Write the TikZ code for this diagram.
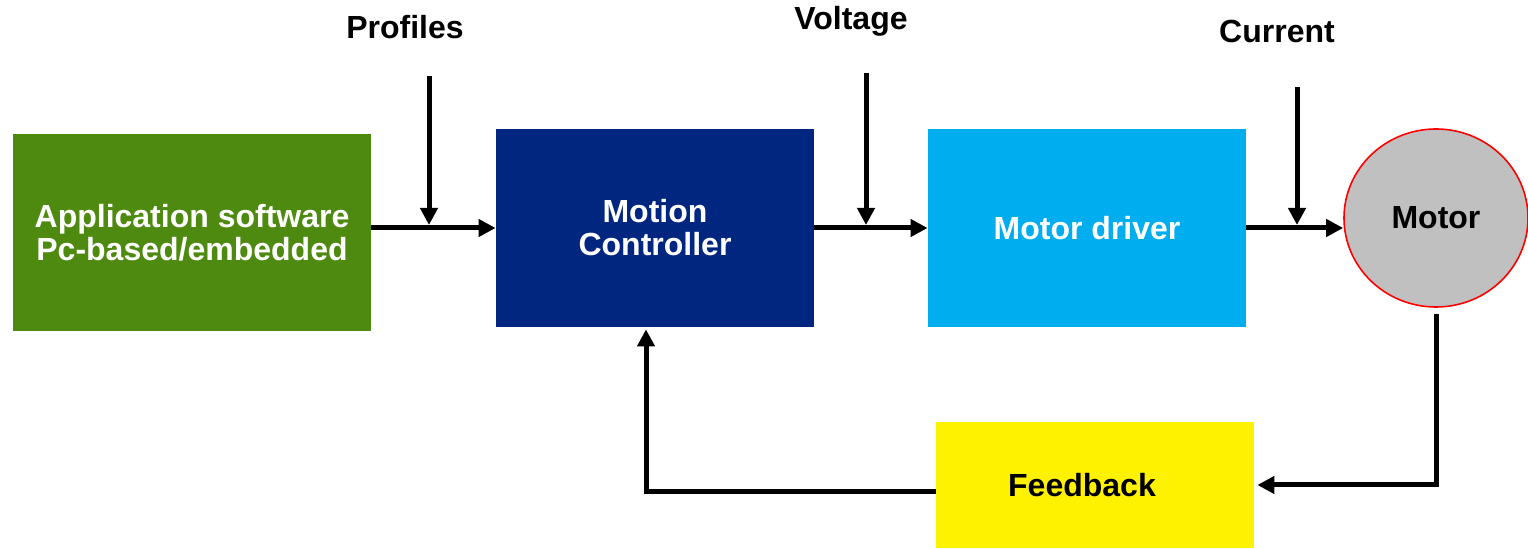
\documentclass[tikz,border=0pt]{standalone}
\usepackage{fontspec}
\setmainfont{Liberation Sans}
\usepackage{tikz}
\usetikzlibrary{arrows.meta,positioning,shapes.geometric}
\definecolor{appgreen}{HTML}{4F8A10}
\definecolor{ctrlblue}{HTML}{00267F}
\definecolor{drvblue}{HTML}{00AEEF}
\definecolor{motorgray}{HTML}{C0C0C0}
\definecolor{fbyellow}{HTML}{FFF200}

\begin{document}
\begin{tikzpicture}[
x=0.5pt,y=-0.5pt,
txt/.style={font=\bfseries\fontsize{16}{16.5}\selectfont},
block/.style={txt,align=center,inner sep=0pt,text=white},
arr/.style={-{Triangle[length=8.5pt,width=8.5pt]},line width=2.5pt}]
\useasboundingbox (0,0) rectangle (1528,549);
\node[block,fill=appgreen,minimum width=179pt,minimum height=98.5pt] (app) at (192,232.5) {Application software\\Pc-based/embedded};
\node[block,fill=ctrlblue,minimum width=159pt,minimum height=99pt] (ctrl) at (655,228) {Motion\\Controller};
\node[block,fill=drvblue,minimum width=159pt,minimum height=99pt] (drv) at (1087,228) {Motor driver};
\node[block,ellipse,text=black,fill=motorgray,draw=red,line width=0.8pt,minimum width=92pt,minimum height=89pt] (motor) at (1436,218) {Motor};
\node[block,text=black,fill=fbyellow,minimum width=159pt,minimum height=63pt] (fb) at (1095,485) {\hspace*{-13pt}Feedback};
% inputs from above
\node[txt] (proflbl) at (405,27) {Profiles};
\node[txt] (voltlbl) at (851,21) {Voltage};
\node[txt] (currlbl) at (1277,31) {Current};
\coordinate (prof) at (429,76);
\coordinate (volt) at (866,73);
\coordinate (curr) at (1297,87);
\draw[arr] (app.east|-ctrl.west)--(ctrl.west);
\draw[arr] (ctrl.east)--(drv.west);
\draw[arr] (drv.east)--(drv.east-|motor.west);
\draw[arr,shorten >=1.5pt] (prof)--(prof|-ctrl.west);
\draw[arr,shorten >=1.5pt] (volt)--(volt|-ctrl.west);
\draw[arr,shorten >=1.5pt] (curr)--(curr|-drv.east);
% feedback loop
\draw[arr,shorten <=3pt,shorten >=1.5pt] (motor.south)|-(fb.east);
\draw[arr,shorten >=1pt] ([yshift=-3.5pt]fb.west)-|([xshift=-4.5pt]ctrl.south);
\end{tikzpicture}
\end{document}
